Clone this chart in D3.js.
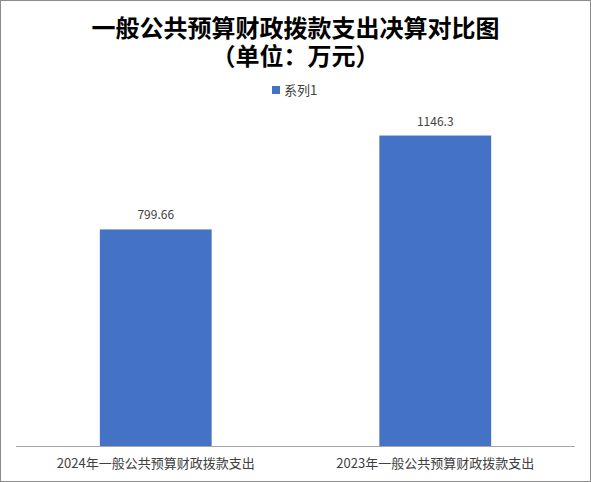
<!DOCTYPE html>
<html><head><meta charset="utf-8">
<script src="https://cdn.jsdelivr.net/npm/d3@7"></script>
<style>body{margin:0;background:#fff}svg{display:block;font-family:"Noto Sans CJK SC","Noto Sans",sans-serif}</style>
</head><body>
<script>
const titleLines = ["一般公共预算财政拨款支出决算对比图", "（单位：万元）"];
const seriesName = "系列1";
const categories = ["2024年一般公共预算财政拨款支出", "2023年一般公共预算财政拨款支出"];
const values = [799.66, 1146.3];
const labels = ["799.66", "1146.3"];

const W = 591, H = 482;
const svg = d3.select("body").append("svg").attr("width", W).attr("height", H);
svg.append("rect").attr("x", 0.5).attr("y", 0.5).attr("width", W - 1).attr("height", H - 1)
  .attr("fill", "#fff").attr("stroke", "#8c8c8c");

const plot = {left: 16, right: 575, top: 121, bottom: 446};
const x = d3.scaleBand().domain(categories).range([plot.left, plot.right]).paddingInner(0.6).paddingOuter(0.3);
const y = d3.scaleLinear().domain([0, 1200]).range([plot.bottom, plot.top]);

svg.selectAll(".t").data(titleLines).enter().append("text")
  .attr("x", W / 2).attr("y", (d, i) => 37 + i * 28)
  .attr("text-anchor", "middle").attr("font-size", 24).attr("font-weight", "bold").attr("fill", "#000")
  .attr("font-family", '"Liberation Sans","Noto Sans CJK SC",sans-serif')
  .text(d => d);

// legend
svg.append("rect").attr("x", 272).attr("y", 86).attr("width", 8).attr("height", 8).attr("fill", "#4472C4");
svg.append("text").attr("x", 284).attr("y", 95).attr("font-size", 13).attr("fill", "#404040").text(seriesName);

svg.selectAll(".bar").data(values).enter().append("rect")
  .attr("x", (d, i) => x(categories[i])).attr("width", x.bandwidth())
  .attr("y", d => y(d)).attr("height", d => y(0) - y(d)).attr("fill", "#4472C4");

svg.selectAll(".lbl").data(values).enter().append("text")
  .attr("x", (d, i) => x(categories[i]) + x.bandwidth() / 2).attr("y", d => y(d) - 10)
  .attr("text-anchor", "middle").attr("font-size", 12).attr("fill", "#404040")
  .text((d, i) => labels[i]);

const ax = svg.append("g").attr("transform", `translate(0,${plot.bottom})`)
  .call(d3.axisBottom(x).tickSize(0).tickPadding(13));
ax.select(".domain").attr("stroke", "#a6a6a6").attr("d", `M${plot.left},0.5H${plot.right}`);
ax.selectAll("text").attr("font-size", 13).attr("fill", "#404040").attr("font-family", '"Noto Sans CJK SC",sans-serif');
</script>
</body></html>
